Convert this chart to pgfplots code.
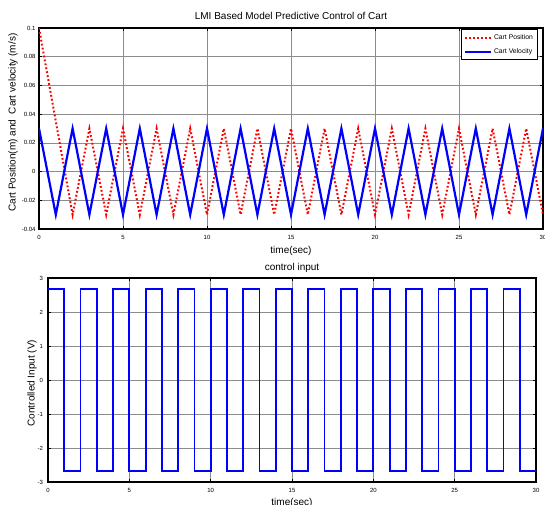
\documentclass[border=0pt]{standalone}
\usepackage{pgfplots}
\pgfplotsset{compat=1.18}
\usepackage{fontspec}
\setmainfont{Liberation Sans}
\begin{document}
\begin{tikzpicture}
\path[use as bounding box] (0pt,0pt) rectangle (545pt,504pt);
\pgfplotsset{
 mystyle/.style={
  scale only axis,
  anchor=south west,
  axis line style={line width=1.2pt},
  every tick/.style={black, line width=0.6pt},
  tick align=inside,
  major tick length=3pt,
  grid=major,
  major grid style={black!45, line width=0.5pt},
  ticklabel style={font=\fontsize{6}{7}\selectfont},
  xticklabel shift=2.5pt,
  label style={font=\fontsize{10}{12}\selectfont},
  title style={font=\fontsize{10}{12}\selectfont},
  every axis title shift=0pt,
  /pgf/number format/assume math mode=true,
  xmin=0, xmax=30, xtick={0,5,10,15,20,25,30},
  xticklabels={0,5,10,15,20,25,30},
 },
 legend image code/.code={\draw[#1] (0pt,0pt) -- (26pt,0pt);}
}
% ---------------- top axis ----------------
\begin{axis}[mystyle,
  at={(39pt,275pt)}, width=504pt, height=201pt,
  ymin=-0.04, ymax=0.1,
  ytick={-0.04,-0.02,0,0.02,0.04,0.06,0.08,0.1},
  yticklabels={-0.04,-0.02,0,0.02,0.04,0.06,0.08,0.1},
  title={LMI Based Model Predictive Control of Cart},
  title style={at={(axis description cs:0.5,1.04)}, anchor=base},
  xlabel={time(sec)},
  xlabel style={at={(axis description cs:0.5,-0.12)}, anchor=base},
  ylabel={Cart Position(m) and \ Cart velocity (m/s)},
  ylabel style={at={(axis description cs:-0.0516,0.53)}, anchor=center},
  legend style={font=\fontsize{6.8}{7.5}\selectfont, draw=black, line width=1pt,
    at={(axis description cs:0.99,0.995)}, anchor=north east,
    inner xsep=2.5pt, inner ysep=3pt, row sep=3.5pt, cells={anchor=west}},
]
\addplot[red, line width=2pt, dash pattern=on 1.8pt off 2.2pt] coordinates {
(0,0.1)(2,-0.03)(3,0.03)(4,-0.03)(5,0.03)(6,-0.03)(7,0.03)(8,-0.03)(9,0.03)(10,-0.03)
(11,0.03)(12,-0.03)(13,0.03)(14,-0.03)(15,0.03)(16,-0.03)(17,0.03)(18,-0.03)(19,0.03)(20,-0.03)
(21,0.03)(22,-0.03)(23,0.03)(24,-0.03)(25,0.03)(26,-0.03)(27,0.03)(28,-0.03)(29,0.03)(30,-0.03)};
\addlegendentry{Cart Position}
\addplot[blue, line width=2.2pt] coordinates {
(0,0.03)(1,-0.03)(2,0.03)(3,-0.03)(4,0.03)(5,-0.03)(6,0.03)(7,-0.03)(8,0.03)(9,-0.03)(10,0.03)
(11,-0.03)(12,0.03)(13,-0.03)(14,0.03)(15,-0.03)(16,0.03)(17,-0.03)(18,0.03)(19,-0.03)(20,0.03)
(21,-0.03)(22,0.03)(23,-0.03)(24,0.03)(25,-0.03)(26,0.03)(27,-0.03)(28,0.03)(29,-0.03)(30,0.03)};
\addlegendentry{Cart Velocity}
\end{axis}
% ---------------- bottom axis ----------------
\begin{axis}[mystyle,
  at={(48pt,22pt)}, width=488pt, height=204pt,
  ymin=-3, ymax=3,
  ytick={-3,-2,-1,0,1,2,3},
  yticklabels={-3,-2,-1,0,1,2,3},
  yticklabel shift=1.5pt,
  title={control input},
  title style={at={(axis description cs:0.5,1.039)}, anchor=base},
  xlabel={time(sec)},
  xlabel style={at={(axis description cs:0.5,-0.113)}, anchor=base},
  ylabel={Controlled Input (V)},
  ylabel style={at={(axis description cs:-0.0328,0.485)}, anchor=center},
]
\addplot[blue, line width=1.8pt, const plot] coordinates {
(0,2.67)(1,-2.67)(2,2.67)(3,-2.67)(4,2.67)(5,-2.67)(6,2.67)(7,-2.67)(8,2.67)(9,-2.67)
(10,2.67)(11,-2.67)(12,2.67)(13,-2.67)(14,2.67)(15,-2.67)(16,2.67)(17,-2.67)(18,2.67)(19,-2.67)
(20,2.67)(21,-2.67)(22,2.67)(23,-2.67)(24,2.67)(25,-2.67)(26,2.67)(27,-2.67)(28,2.67)(29,-2.67)(30,-2.67)};
\end{axis}
\end{tikzpicture}
\end{document}
